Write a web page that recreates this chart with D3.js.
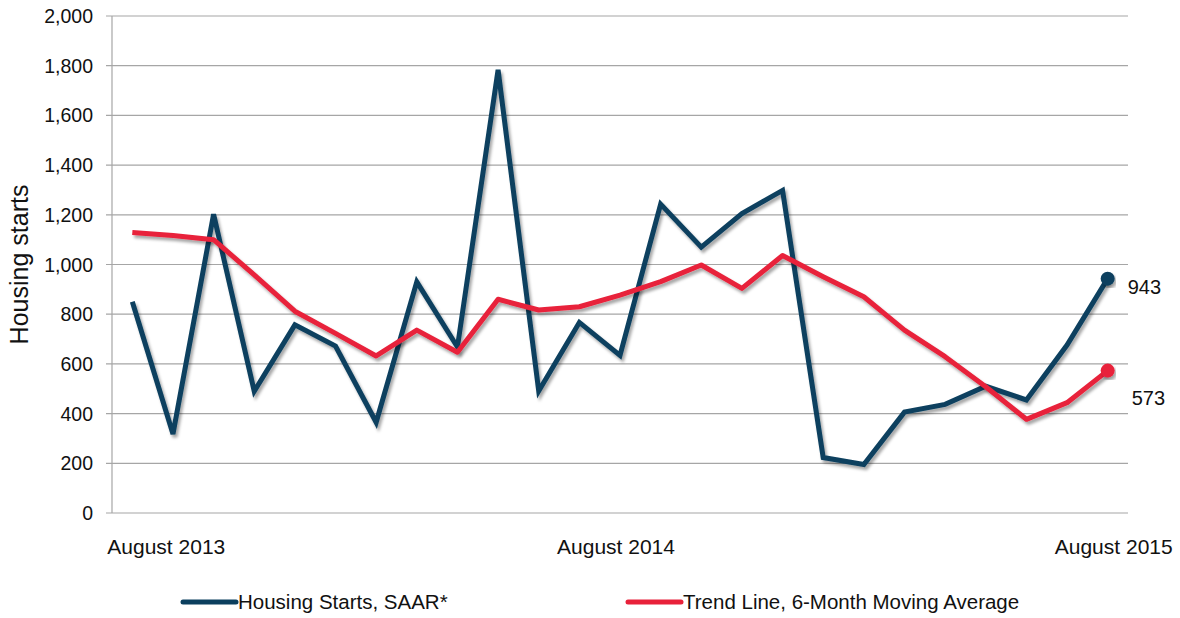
<!DOCTYPE html>
<html>
<head>
<meta charset="utf-8">
<script src="https://cdn.jsdelivr.net/npm/d3@7"></script>
<style>
  body { margin: 0; background: #fff; }
  svg { display: block; font-family: "Liberation Sans", Arial, sans-serif; }
</style>
</head>
<body>
<svg id="chart" width="1180" height="618"></svg>
<script>
const months = ['Aug 2013','Sep 2013','Oct 2013','Nov 2013','Dec 2013','Jan 2014','Feb 2014','Mar 2014',
  'Apr 2014','May 2014','Jun 2014','Jul 2014','Aug 2014','Sep 2014','Oct 2014','Nov 2014','Dec 2014',
  'Jan 2015','Feb 2015','Mar 2015','Apr 2015','May 2015','Jun 2015','Jul 2015','Aug 2015']
const housingStarts = [850,318,1202,490,757,672,365,930,668,1783,491,767,634,1243,1070,1205,1298,
  223,195,406,437,510,455,676,943]
const trendLine = [1129,1117,1100,958,812,723,632,736,647,860,817,830,877,931,998,904,1036,
  951,870,736,629,508,377,444,573]
const yTicks = [0,200,400,600,800,1000,1200,1400,1600,1800,2000]
const xLabels = [
  {month: 'Aug 2013', text: 'August 2013'},
  {month: 'Aug 2014', text: 'August 2014'},
  {month: 'Aug 2015', text: 'August 2015'}
]
const seriesNames = ['Housing Starts, SAAR*', 'Trend Line, 6-Month Moving Average']

const blue = '#0b3f5e'
const red = '#e8213a'
const grid = '#a6a6a6'

const margin = {top: 16, right: 52, bottom: 105, left: 112}
const width = 1180 - margin.left - margin.right
const height = 618 - margin.top - margin.bottom

const svg = d3.select('#chart')

// drop shadow like the office chart
const defs = svg.append('defs')
const f = defs.append('filter').attr('id', 'shadow')
  .attr('x', '-5%').attr('y', '-5%').attr('width', '110%').attr('height', '115%')
f.append('feDropShadow')
  .attr('dx', 2).attr('dy', 3).attr('stdDeviation', 1.6)
  .attr('flood-color', '#000').attr('flood-opacity', 0.35)

const g = svg.append('g')
  .attr('transform', 'translate(' + margin.left + ',' + margin.top + ')')

const x = d3.scalePoint()
  .domain(months)
  .range([0, width])
  .padding(0.5)

const y = d3.scaleLinear()
  .domain([0, 2000])
  .range([height, 0])

// gridlines
g.append('g')
  .selectAll('line')
  .data(yTicks)
  .join('line')
    .attr('x1', -6)
    .attr('x2', width)
    .attr('y1', d => y(d))
    .attr('y2', d => y(d))
    .attr('stroke', grid)
    .attr('stroke-width', 1.2)

// y axis line
g.append('line')
  .attr('x1', 0).attr('x2', 0)
  .attr('y1', 0).attr('y2', height)
  .attr('stroke', grid)
  .attr('stroke-width', 1.2)

// y tick labels
g.append('g')
  .selectAll('text')
  .data(yTicks)
  .join('text')
    .attr('x', -19)
    .attr('y', d => y(d))
    .attr('dy', '0.36em')
    .attr('text-anchor', 'end')
    .attr('font-size', '19.5px')
    .attr('fill', '#111')
    .text(d => d3.format(',')(d))

// y label
g.append('text')
  .attr('transform', `translate(${-84}, ${height / 2}) rotate(-90)`)
  .attr('text-anchor', 'middle')
  .attr('font-size', '25px')
  .attr('fill', '#111')
  .text('Housing starts')

// x labels
const anchors = ['start', 'middle', 'end']
const offsets = [-25, -4, 65]
g.append('g')
  .selectAll('text')
  .data(xLabels)
  .join('text')
    .attr('x', (d, i) => x(d.month) + offsets[i])
    .attr('y', height + 41)
    .attr('text-anchor', (d, i) => anchors[i])
    .attr('font-size', '21px')
    .attr('fill', '#111')
    .text(d => d.text)

const line = d3.line()
  .x((d, i) => x(months[i]))
  .y(d => y(d))

// Draw lines
g.append('path')
  .datum(housingStarts)
  .attr('fill', 'none')
  .attr('stroke', blue)
  .attr('stroke-width', 5)
  .attr('stroke-linejoin', 'miter')
  .attr('filter', 'url(#shadow)')
  .attr('d', line)

g.append('path')
  .datum(trendLine)
  .attr('fill', 'none')
  .attr('stroke', red)
  .attr('stroke-width', 5)
  .attr('stroke-linejoin', 'round')
  .attr('filter', 'url(#shadow)')
  .attr('d', line)

// end markers and value labels
const last = months.length - 1
const ends = [
  {v: housingStarts[last], color: blue, dx: 20, dy: 8},
  {v: trendLine[last], color: red, dx: 24, dy: 27}
]
g.selectAll('.endDot')
  .data(ends)
  .join('circle')
    .attr('class', 'endDot')
    .attr('cx', x(months[last]))
    .attr('cy', d => y(d.v))
    .attr('r', 7)
    .attr('fill', d => d.color)
    .attr('filter', 'url(#shadow)')

g.selectAll('.endLabel')
  .data(ends)
  .join('text')
    .attr('class', 'endLabel')
    .attr('x', d => x(months[last]) + d.dx)
    .attr('y', d => y(d.v) + d.dy)
    .attr('dy', '0.36em')
    .attr('font-size', '20px')
    .attr('fill', '#111')
    .text(d => d.v)

// legend
const legend = svg.append('g')
  .attr('transform', 'translate(0,' + 602 + ')')
const legendX = [183, 628]
const legendColors = [blue, red]
seriesNames.forEach((name, i) => {
  legend.append('line')
    .attr('x1', legendX[i]).attr('x2', legendX[i] + 53)
    .attr('y1', 0).attr('y2', 0)
    .attr('stroke', legendColors[i])
    .attr('stroke-width', 5)
    .attr('stroke-linecap', 'round')
  legend.append('text')
    .attr('x', legendX[i] + 55)
    .attr('y', 0)
    .attr('dy', '0.36em')
    .attr('font-size', '20.5px')
    .attr('fill', '#111')
    .text(name)
})
</script>
</body>
</html>
